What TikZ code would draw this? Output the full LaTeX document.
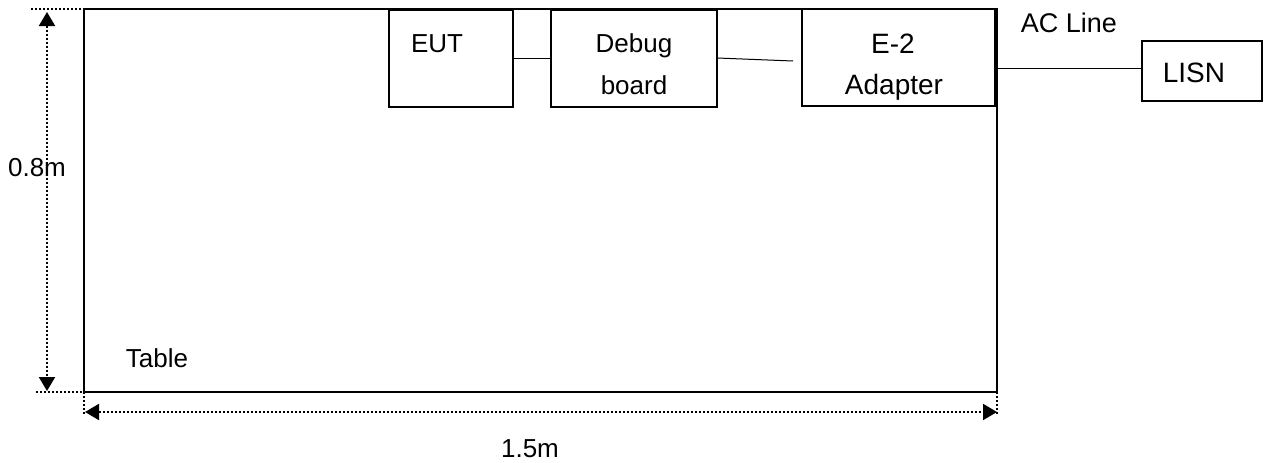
\documentclass[tikz,border=0pt]{standalone}
\usepackage{fontspec}
\setmainfont{Liberation Sans}
\usetikzlibrary{arrows.meta}
\begin{document}
\begin{tikzpicture}[x=1pt,y=-1pt,
  box/.style={draw, line width=1.6pt, inner sep=0pt, outer sep=0pt},
  lbl/.style={font=\fontsize{26}{42}\selectfont, inner sep=0pt, anchor=base},
  biglbl/.style={lbl, font=\fontsize{28}{42}\selectfont},
  dimline/.style={line width=2pt, dash pattern=on 2pt off 2pt},
  wire/.style={line width=1pt},
  dimtip/.style={{Triangle[length=14pt,width=16pt]}-{Triangle[length=14pt,width=16pt]}}
]
\useasboundingbox (0,0) rectangle (1267,463);
% table
\node[box, line width=2pt, minimum width=913pt, minimum height=383pt] (table) at (540.5,200.5) {};
% boxes
\node[box, minimum width=124pt, minimum height=97pt] (eut) at (451,58.5) {};
\node[box, minimum width=166pt, minimum height=97pt] (dbg) at (634,58.5) {};
\node[box, minimum width=193pt, minimum height=97pt] (adp) at (898.5,57.5) {};
\node[box, minimum width=120pt, minimum height=60pt] (lisn) at (1202,71) {};
% texts
\node[lbl] (teut) at (437,52) {EUT};
\node[lbl] (tdbg1) at (634,52) {Debug};
\node[lbl] (tdbg2) at (634,94) {board};
\node[biglbl] (tadp1) at (893,53) {E-2};
\node[biglbl] (tadp2) at (894,94) {Adapter};
\node[biglbl] (tlisn) at (1194,82) {LISN};
\node[lbl, font=\fontsize{27}{42}\selectfont] (tac) at (1069,32) {AC Line};
\node[lbl] (ttab) at (157,367) {Table};
\node[lbl] (th) at (37,176) {0.8m};
\node[lbl] (tw) at (530,457) {1.5m};
% wires
\draw[wire] (eut.east |- 0,58) -- (dbg.west |- 0,58);
\coordinate (dbgend) at (793,61);
\draw[wire] (dbg.east |- 0,58) -- (dbgend);
\draw[wire] (adp.east |- 0,68) -- (lisn.west |- 0,68);
% dimension lines
\coordinate (tl1) at (31,9);
\coordinate (tl2) at (100,9);
\coordinate (bl1) at (36,392);
\coordinate (bl2) at (106,392);
\coordinate (va) at (47,12);
\coordinate (vb) at (47,391);
\coordinate (hl1) at (84,392);
\coordinate (hl2) at (84,414);
\coordinate (hr1) at (997,392);
\coordinate (hr2) at (997,414);
\coordinate (ha) at (85,412);
\coordinate (hb) at (997,412);
\draw[dimline] (tl1) -- (tl2);
\draw[dimline] (bl1) -- (bl2);
\draw[dimline] (hl1) -- (hl2);
\draw[dimline] (hr1) -- (hr2);
\draw[dimline, dimtip] (va) -- (vb);
\draw[dimline, dimtip] (ha) -- (hb);
\end{tikzpicture}
\end{document}
